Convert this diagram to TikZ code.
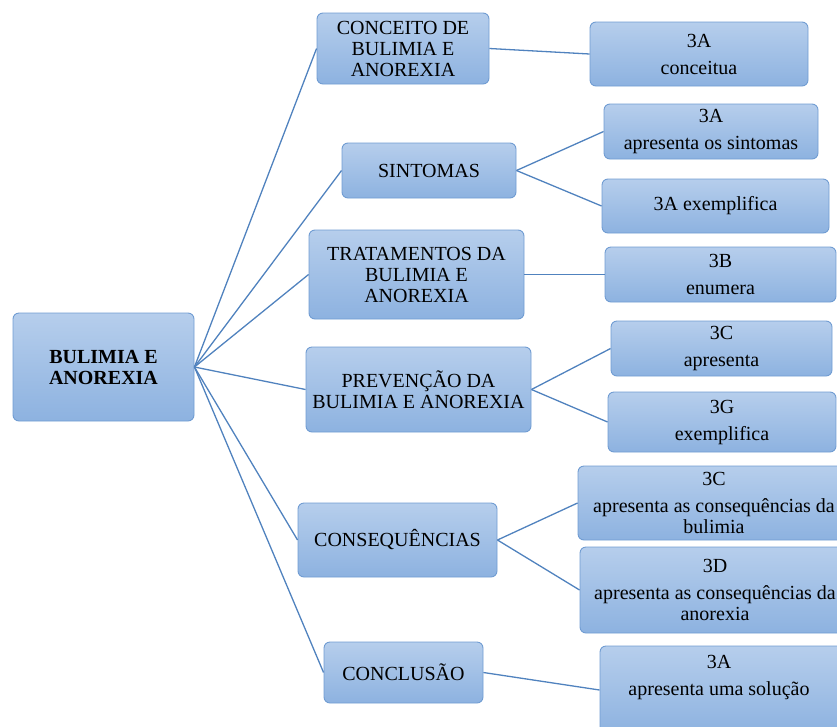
\documentclass[tikz,border=0pt]{standalone}
\usepackage{fontspec}
\setmainfont{Liberation Serif}
\definecolor{boxtop}{RGB}{182,206,236}
\definecolor{boxbot}{RGB}{141,178,224}
\definecolor{boxedge}{RGB}{112,156,210}
\definecolor{linkc}{RGB}{80,130,190}
\tikzset{
  box/.style={draw=boxedge, line width=0.9pt, rounded corners=6pt,
    top color=boxtop, bottom color=boxbot, inner sep=0pt, align=center,
    font=\fontsize{20}{21}\selectfont},
  txt/.style={inner sep=0pt, align=center, font=\fontsize{20}{21}\selectfont},
  link/.style={draw=linkc, line width=1.3pt},
}
\begin{document}
\begin{tikzpicture}[x=1pt,y=-1pt]
\useasboundingbox (0,0) rectangle (837,726);
\clip (0,0) rectangle (837,726);
\node[box, minimum width=181pt, minimum height=108pt] (root) at (103.5,367) {\bfseries BULIMIA E\\\bfseries ANOREXIA};
\node[box, minimum width=172pt, minimum height=71pt] (c1) at (403,48.5) {CONCEITO DE\\BULIMIA E\\ANOREXIA};
\node[box, minimum width=218pt, minimum height=64pt] (c1a) at (699,54) {3A\\[6pt]conceitua};
\node[box, minimum width=174pt, minimum height=55pt] (c2) at (429,170.5) {SINTOMAS};
\node[box, minimum width=214pt, minimum height=55pt] (c2a) at (711,131.5) {3A\\[6pt]apresenta os sintomas};
\node[box, minimum width=227pt, minimum height=54pt] (c2b) at (715.5,206) {3A exemplifica};
\node[box, minimum width=215pt, minimum height=89pt] (c3) at (416.5,274.5) {TRATAMENTOS DA\\BULIMIA E\\ANOREXIA};
\node[box, minimum width=231pt, minimum height=55pt] (c3a) at (720.5,274.5) {3B\\[6pt]enumera};
\node[box, minimum width=225pt, minimum height=85pt] (c4) at (418.5,389.5) {PREVENÇÃO DA\\BULIMIA E ANOREXIA};
\node[box, minimum width=221pt, minimum height=55pt] (c4a) at (721.5,348.5) {3C\\[6pt]apresenta};
\node[box, minimum width=228pt, minimum height=60pt] (c4b) at (722,422) {3G\\[6pt]exemplifica};
\node[box, minimum width=199pt, minimum height=74pt] (c5) at (397.5,540) {CONSEQUÊNCIAS};
\node[box, minimum width=272pt, minimum height=74pt] (c5a) at (714,503) {3C\\[6pt]apresenta as consequências da\\bulimia};
\node[box, minimum width=270pt, minimum height=86pt] (c5b) at (715,590) {3D\\[6pt]apresenta as consequências da\\anorexia};
\node[box, minimum width=159pt, minimum height=61pt] (c6) at (403.5,672.5) {CONCLUSÃO};
\node[box, minimum width=250pt, minimum height=88pt] (c6a) at (725,690) {};
\node[txt] (c6at) at (719,677) {3A\\[6pt]apresenta uma solução};
\draw[link] (root.east) -- (c1.west);
\draw[link] (root.east) -- (c2.west);
\draw[link] (root.east) -- (c3.west);
\draw[link] (root.east) -- (c4.west);
\draw[link] (root.east) -- (c5.west);
\draw[link] (root.east) -- (c6.west);
\draw[link] (c1.east) -- (c1a.west);
\draw[link] (c2.east) -- (c2a.west);
\draw[link] (c2.east) -- (c2b.west);
\draw[link] (c3.east) -- (c3a.west);
\draw[link] (c4.east) -- (c4a.west);
\draw[link] (c4.east) -- (c4b.west);
\draw[link] (c5.east) -- (c5a.west);
\draw[link] (c5.east) -- (c5b.west);
\draw[link] (c6.east) -- (c6a.west);
\end{tikzpicture}
\end{document}
